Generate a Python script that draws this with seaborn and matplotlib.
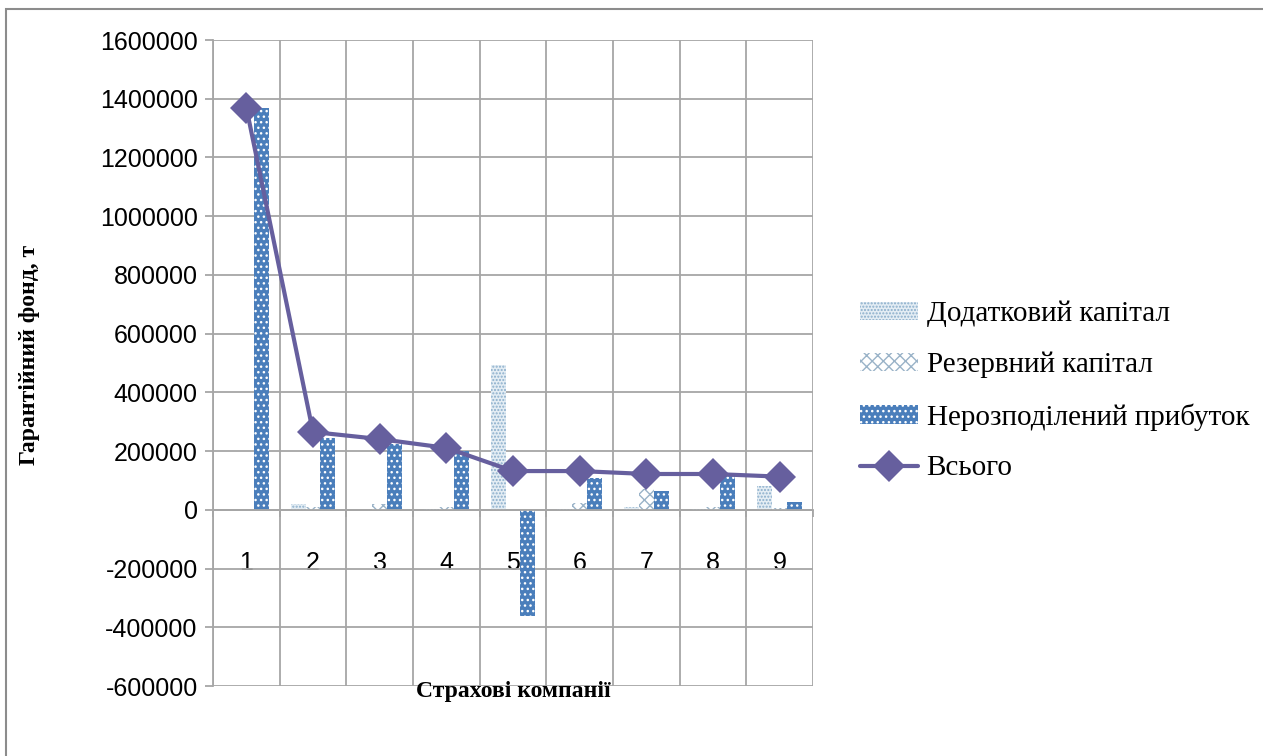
import numpy as np
import pandas as pd
import seaborn as sns
import matplotlib.pyplot as plt
from matplotlib.patches import Patch, Rectangle
from matplotlib.lines import Line2D

# data
companies = ['1', '2', '3', '4', '5', '6', '7', '8', '9']
series_names = ['Додатковий капітал', 'Резервний капітал', 'Нерозподілений прибуток']
dodatkovyi = [0, 20000, 0, 4000, 492000, 3000, 8000, 3000, 82000]
rezervnyi = [0, 8000, 20000, 8000, 0, 22000, 71000, 8000, 5000]
neroz = [1370000, 245000, 224000, 200000, -362000, 109000, 65000, 115000, 27000]
total = [1370000, 265000, 241000, 211000, 132000, 132000, 122000, 122000, 113000]
total_name = 'Всього'
y_ticks = list(range(-600000, 1600001, 200000))

df = pd.DataFrame({
    'company': companies * 3,
    'series': sum([[s] * len(companies) for s in series_names], []),
    'value': dodatkovyi + rezervnyi + neroz,
})

sns.set_style('white')
plt.rcParams['font.family'] = ['Liberation Sans', 'DejaVu Sans']
plt.rcParams['text.color'] = 'black'
plt.rcParams['xtick.labelcolor'] = 'black'
plt.rcParams['ytick.labelcolor'] = 'black'

face = ['#e4edf4', '#ffffff', '#4a7ebb']
hatch_col = ['#8aaecb', '#9ab3c8', '#ffffff']
hatches = ['.....', 'xxx', '...']
line_col = '#665f9e'
grid_col = '#a6a6a6'

fig = plt.figure(figsize=(12.63, 7.56), dpi=100)
ax = fig.add_axes([213 / 1263, 1 - 686 / 756, 600 / 1263, 646 / 756])

sns.barplot(data=df, x='company', y='value', hue='series', hue_order=series_names,
            order=companies, palette=face, width=0.667, gap=0, legend=False, ax=ax,
            errorbar=None, saturation=1)
for i, cont in enumerate(ax.containers):
    for bar in cont:
        bar.set_hatch(hatches[i])
        bar.set_edgecolor(hatch_col[i])
        bar.set_linewidth(0)
        bar.set_zorder(2)

sns.lineplot(x=np.arange(len(companies)), y=total, color=line_col, linewidth=3,
             marker='D', markersize=16, markeredgewidth=0, ax=ax, zorder=5)

# spine moved first: it resets the ticks
for s in ['top', 'right']:
    ax.spines[s].set_visible(False)
ax.spines['left'].set_color(grid_col)
ax.spines['left'].set_linewidth(1.3)
ax.spines['bottom'].set_position(('data', 0))
ax.spines['bottom'].set_color(grid_col)
ax.spines['bottom'].set_linewidth(1.3)

ax.set_xlim(-0.5, len(companies) - 0.5)
ax.set_ylim(-600000, 1600000)
ax.set_yticks(y_ticks)
ax.set_yticklabels([str(v) for v in y_ticks])
ax.set_xticks(np.arange(len(companies)))
ax.set_xticklabels(companies)
ax.set_xticks(np.arange(-0.5, len(companies), 1), minor=True)

ax.set_axisbelow(True)
ax.grid(axis='y', which='major', color=grid_col, linewidth=1.3)
ax.grid(axis='x', which='minor', color=grid_col, linewidth=1.3)

ax.tick_params(axis='y', direction='out', length=6, color=grid_col, width=1.3, pad=5,
               left=True, labelsize=18, labelcolor='black')
ax.tick_params(axis='x', which='major', length=0, pad=30, labelsize=18, labelcolor='black')
ax.tick_params(axis='x', which='minor', direction='out', length=5, color=grid_col,
               width=1.3, bottom=True)
ax.set_xlabel('')
ax.set_ylabel('')

fig.text(513 / 1263, 1 - 691 / 756, 'Страхові компанії', ha='center', va='center',
         family='Liberation Serif', fontweight='bold', fontsize=17, color='black')
fig.text(30 / 1263, 1 - 355 / 756, 'Гарантійний фонд, т', ha='center', va='center',
         rotation=90, family='Liberation Serif', fontweight='bold', fontsize=17,
         color='black')

handles = [Patch(facecolor=face[i], edgecolor=hatch_col[i], hatch=hatches[i], linewidth=0)
           for i in range(3)]
handles.append(Line2D([], [], color=line_col, linewidth=3, marker='D', markersize=16,
                      markeredgewidth=0))
leg = fig.legend(handles, series_names + [total_name], loc='upper left',
                 bbox_to_anchor=(845 / 1263, 1 - 286 / 756), frameon=False,
                 prop={'family': 'Liberation Serif', 'size': 21}, handlelength=2.0,
                 handleheight=0.6, handletextpad=0.3, labelspacing=0.85, borderpad=0,
                 labelcolor='black')

fig.add_artist(Rectangle((6 / 1263, -0.1), 1.2, 1 - 9 / 756 + 0.1, transform=fig.transFigure,
                         fill=False, edgecolor='#8c8c8c', linewidth=1.5))

fig.savefig('out.png', dpi=100)
